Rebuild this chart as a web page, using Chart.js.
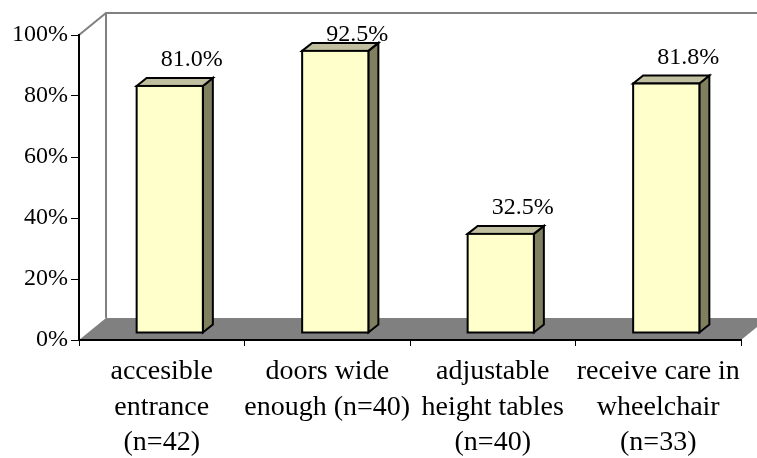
<!DOCTYPE html>
<html>
<head>
<meta charset="utf-8">
<script src="https://cdn.jsdelivr.net/npm/chart.js@4/dist/chart.umd.min.js"></script>
<style>
  html, body { margin: 0; padding: 0; background: #fff; }
  #wrap { width: 757px; height: 458px; }
</style>
</head>
<body>
<div id="wrap"><canvas id="c" width="757" height="458"></canvas></div>
<script>
// Categories (multi-line axis labels)
const categories = [
  ['accesible', 'entrance', '(n=42)'],
  ['doors wide', 'enough (n=40)'],
  ['adjustable', 'height tables', '(n=40)'],
  ['receive care in', 'wheelchair', '(n=33)']
];
// Share of respondents, percent
const percentValues = [81.0, 92.5, 32.5, 81.8];
// Value-axis range and step
const yMin = 0, yMax = 100, yStep = 20;

const SERIF = '"Liberation Serif", "Times New Roman", serif';

// Depth of the 3D box (back wall offset) and of each bar
const WALL_DX = 27, WALL_DY = 22;
const BAR_SHIFT_X = 8, BAR_SHIFT_Y = 7;   // bars stand a little behind the front plane
const BAR_DX = 10, BAR_DY = 8;            // depth of each bar's side/top faces

const box3d = {
  id: 'box3d',
  beforeDraw(chart) {
    const { ctx, chartArea: a } = chart;
    ctx.save();
    ctx.fillStyle = '#ffffff';
    ctx.fillRect(0, 0, chart.width, chart.height);
    // floor
    ctx.fillStyle = '#808080';
    ctx.beginPath();
    ctx.moveTo(a.left, a.bottom);
    ctx.lineTo(a.left + WALL_DX, a.bottom - WALL_DY);
    ctx.lineTo(a.right + WALL_DX, a.bottom - WALL_DY);
    ctx.lineTo(a.right, a.bottom);
    ctx.closePath();
    ctx.fill();
    // back wall edges
    ctx.strokeStyle = '#808080';
    ctx.lineWidth = 2;
    ctx.beginPath();
    ctx.moveTo(a.left, a.top);
    ctx.lineTo(a.left + WALL_DX, a.top - WALL_DY);
    ctx.lineTo(a.right + WALL_DX, a.top - WALL_DY);
    ctx.moveTo(a.left + WALL_DX, a.top - WALL_DY);
    ctx.lineTo(a.left + WALL_DX, a.bottom - WALL_DY);
    ctx.stroke();
    ctx.restore();
  },
  afterDatasetsDraw(chart) {
    const { ctx } = chart;
    const meta = chart.getDatasetMeta(0);
    const data = chart.data.datasets[0].data;
    ctx.save();
    ctx.lineWidth = 2;
    ctx.lineJoin = 'miter';
    ctx.strokeStyle = '#000';
    meta.data.forEach((bar, i) => {
      const p = bar.getProps(['x', 'y', 'base', 'width'], true);
      const l = p.x - p.width / 2 + BAR_SHIFT_X;
      const r = p.x + p.width / 2 + BAR_SHIFT_X;
      const t = p.y - BAR_SHIFT_Y;
      const b = p.base - BAR_SHIFT_Y;
      // side face
      ctx.fillStyle = '#808060';
      ctx.beginPath();
      ctx.moveTo(r, t); ctx.lineTo(r + BAR_DX, t - BAR_DY);
      ctx.lineTo(r + BAR_DX, b - BAR_DY); ctx.lineTo(r, b);
      ctx.closePath(); ctx.fill(); ctx.stroke();
      // top face
      ctx.fillStyle = '#c0c0a0';
      ctx.beginPath();
      ctx.moveTo(l, t); ctx.lineTo(l + BAR_DX, t - BAR_DY);
      ctx.lineTo(r + BAR_DX, t - BAR_DY); ctx.lineTo(r, t);
      ctx.closePath(); ctx.fill(); ctx.stroke();
      // front face
      ctx.fillStyle = '#ffffcc';
      ctx.fillRect(l, t, r - l, b - t);
      ctx.strokeRect(l, t, r - l, b - t);
      // value label
      const top = chart.chartArea.top;
      const ly = Math.max(top, t - BAR_DY - 18);
      ctx.fillStyle = '#000';
      ctx.font = '24px ' + SERIF;
      ctx.textAlign = 'center';
      ctx.textBaseline = 'middle';
      ctx.fillText(data[i].toFixed(1) + '%', p.x + 30, ly);
    });
    ctx.restore();
  }
};

new Chart(document.getElementById('c'), {
  type: 'bar',
  data: {
    labels: categories,
    datasets: [{
      data: percentValues,
      backgroundColor: 'rgba(0,0,0,0)',
      borderWidth: 0,
      barPercentage: 0.4,
      categoryPercentage: 1.0
    }]
  },
  options: {
    responsive: false,
    animation: false,
    events: [],
    layout: { padding: { top: 35, right: 16, left: 0, bottom: 0 } },
    plugins: { legend: { display: false }, tooltip: { enabled: false } },
    scales: {
      x: {
        offset: true,
        grid: {
          offset: true, drawOnChartArea: false, drawTicks: true,
          tickLength: 6, color: '#000', lineWidth: 1
        },
        border: { display: true, color: '#000', width: 2 },
        ticks: {
          color: '#000', autoSkip: false, maxRotation: 0, minRotation: 0,
          padding: 8,
          font: { family: SERIF, size: 28, lineHeight: 1.27 }
        },
        afterFit(scale) { scale.height = 118; }
      },
      y: {
        min: yMin, max: yMax,
        grid: {
          drawOnChartArea: false, drawTicks: true,
          tickLength: 8, color: '#000', lineWidth: 1
        },
        border: { display: true, color: '#000', width: 2 },
        ticks: {
          stepSize: yStep, color: '#000', padding: 3,
          font: { family: SERIF, size: 24 },
          callback: v => v + '%'
        },
        afterFit(scale) { scale.width = 79; }
      }
    }
  },
  plugins: [box3d]
});
</script>
</body>
</html>
